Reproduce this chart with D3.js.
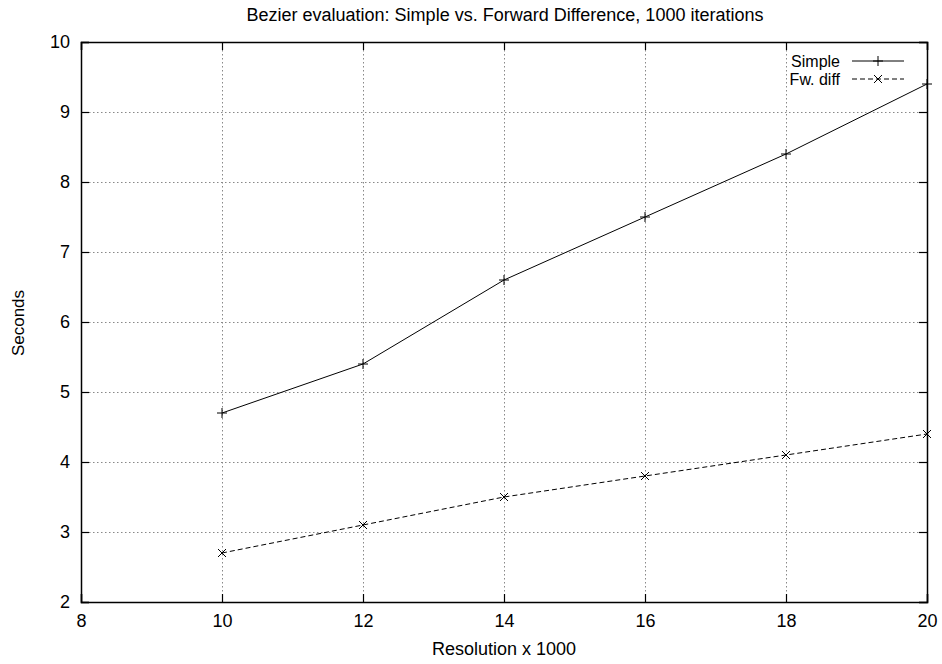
<!DOCTYPE HTML>
<html>
<head>
  <meta charset="utf-8">
  <title>Bezier evaluation</title>
  <script src="https://d3js.org/d3.v7.min.js"></script>
  <style>
    body { margin: 0; background: #fff; }
    text { font-family: "Liberation Sans", Arial, sans-serif; fill: #000; }
  </style>
</head>
<body>
  <script>
    const resolution = [10, 12, 14, 16, 18, 20];
    const simple = [4.7, 5.4, 6.6, 7.5, 8.4, 9.4];
    const fwDiff = [2.7, 3.1, 3.5, 3.8, 4.1, 4.4];
    const xTicks = [8, 10, 12, 14, 16, 18, 20];
    const yTicks = [2, 3, 4, 5, 6, 7, 8, 9, 10];

    const W = 942, H = 664;
    const m = { left: 81, right: 15, top: 42, bottom: 62 };
    const fs = 18;

    const svg = d3.select('body').append('svg')
      .attr('width', W)
      .attr('height', H);

    const x = d3.scaleLinear().domain([8, 20]).range([m.left, W - m.right]);
    const y = d3.scaleLinear().domain([2, 10]).range([H - m.bottom, m.top]);

    // grid
    const grid = svg.append('g')
      .attr('stroke', '#888')
      .attr('stroke-width', 1)
      .attr('stroke-dasharray', '1.5,2.5');
    grid.selectAll('.gx').data(xTicks.slice(1, -1)).enter().append('line')
      .attr('x1', d => Math.round(x(d)) + 0.5).attr('x2', d => Math.round(x(d)) + 0.5)
      .attr('y1', y(10)).attr('y2', y(2));
    grid.selectAll('.gy').data(yTicks.slice(1, -1)).enter().append('line')
      .attr('y1', d => Math.round(y(d)) + 0.5).attr('y2', d => Math.round(y(d)) + 0.5)
      .attr('x1', x(8)).attr('x2', x(20));

    // axes with inward ticks (gnuplot style, mirrored)
    svg.append('g').attr('transform', `translate(0,${y(2)})`)
      .call(d3.axisBottom(x).tickValues(xTicks).tickSize(-8).tickPadding(12).tickFormat(d3.format('d')));
    svg.append('g').attr('transform', `translate(0,${y(10)})`)
      .call(d3.axisTop(x).tickValues(xTicks).tickSize(-8).tickFormat(''));
    svg.append('g').attr('transform', `translate(${x(8)},0)`)
      .call(d3.axisLeft(y).tickValues(yTicks).tickSize(-8).tickPadding(11).tickFormat(d3.format('d')));
    svg.append('g').attr('transform', `translate(${x(20)},0)`)
      .call(d3.axisRight(y).tickValues(yTicks).tickSize(-8).tickFormat(''));

    svg.selectAll('.domain').attr('stroke', '#000').attr('stroke-width', 1.5);
    svg.selectAll('.tick line').attr('stroke', '#000').attr('stroke-width', 1.2);
    svg.selectAll('.tick text').attr('font-size', fs).attr('font-family', '"Liberation Sans", Arial, sans-serif');

    // titles
    svg.append('text').attr('x', 505).attr('y', 21).attr('text-anchor', 'middle')
      .attr('font-size', fs).text('Bezier evaluation: Simple vs. Forward Difference, 1000 iterations');
    svg.append('text').attr('x', 504).attr('y', 655).attr('text-anchor', 'middle')
      .attr('font-size', fs).text('Resolution x 1000');
    svg.append('text').attr('transform', 'translate(24,323) rotate(-90)').attr('text-anchor', 'middle')
      .attr('font-size', 17).text('Seconds');

    const line = d3.line().x(d => x(d[0])).y(d => y(d[1]));
    const series = [
      { name: 'Simple', values: simple, dash: null, marker: 'plus' },
      { name: 'Fw. diff', values: fwDiff, dash: '5,3', marker: 'cross' },
    ];

    const markerPath = (type, cx, cy, r) => type === 'plus'
      ? `M${cx - r},${cy}H${cx + r}M${cx},${cy - r}V${cy + r}`
      : `M${cx - r},${cy - r}L${cx + r},${cy + r}M${cx - r},${cy + r}L${cx + r},${cy - r}`;

    series.forEach((s, i) => {
      const pts = resolution.map((r, j) => [r, s.values[j]]);
      svg.append('path').datum(pts)
        .attr('d', line).attr('fill', 'none').attr('stroke', '#000').attr('stroke-width', 1)
        .attr('stroke-dasharray', s.dash);
      svg.append('g').selectAll('path').data(pts).enter().append('path')
        .attr('d', d => markerPath(s.marker, x(d[0]), y(d[1]), s.marker === 'plus' ? 5 : 4))
        .attr('stroke', '#000').attr('stroke-width', 1).attr('fill', 'none');

      // legend
      const ly = 61 + i * 18;
      svg.append('text').attr('x', 840).attr('y', ly + 6).attr('text-anchor', 'end')
        .attr('font-size', 16).text(s.name);
      svg.append('line').attr('x1', 852).attr('x2', 904).attr('y1', ly).attr('y2', ly)
        .attr('stroke', '#000').attr('stroke-width', 1).attr('stroke-dasharray', s.dash);
      svg.append('path').attr('d', markerPath(s.marker, 878, ly, s.marker === 'plus' ? 5 : 4))
        .attr('stroke', '#000').attr('fill', 'none');
    });
  </script>
</body>
</html>
